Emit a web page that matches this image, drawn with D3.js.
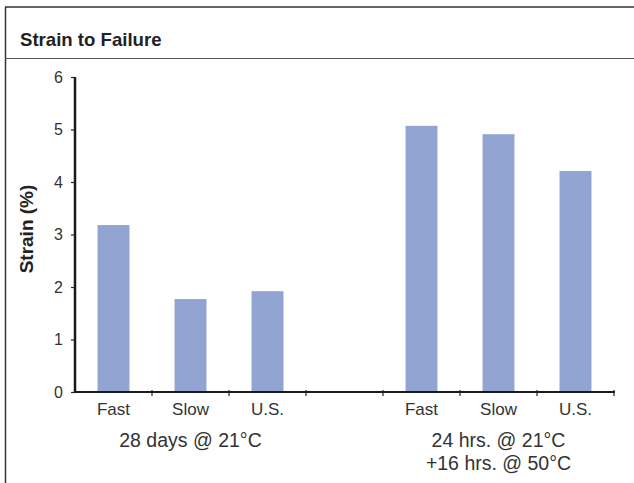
<!DOCTYPE html>
<html>
<head>
<meta charset="utf-8">
<script src="https://cdn.jsdelivr.net/npm/d3@7"></script>
<style>
  html, body { margin: 0; padding: 0; background: #fff; }
  svg { display: block; font-family: "Liberation Sans", Arial, Helvetica, sans-serif; }
</style>
</head>
<body>
<svg id="chart" width="634" height="483"></svg>
<script>
// ---- data ----
const title = "Strain to Failure";
const yLabel = "Strain (%)";
const categories = ["Fast", "Slow", "U.S.", "", "Fast ", "Slow ", "U.S. "];
const tickLabels = ["Fast", "Slow", "U.S.", "", "Fast", "Slow", "U.S."];
const values = [3.18, 1.77, 1.92, null, 5.07, 4.91, 4.21];
const yTicks = [0, 1, 2, 3, 4, 5, 6];
const groupLabels = [["28 days @ 21°C"], ["24 hrs. @ 21°C", "+16 hrs. @ 50°C"]];
const groupSpans = [[0, 2], [4, 6]];

(function () {
// ---- layout ----
const svg = d3.select("#chart");
const W = 634, H = 483;
const pl = 75, pr = 614, pt = 77, pb = 392;
const textColor = "#333";

// frame
svg.append("line").attr("x1", 5).attr("x2", W).attr("y1", 7).attr("y2", 7)
  .attr("stroke", "#333").attr("stroke-width", 1.6);
svg.append("line").attr("x1", 5.5).attr("x2", 5.5).attr("y1", 7).attr("y2", H)
  .attr("stroke", "#333").attr("stroke-width", 1.5);
svg.append("line").attr("x1", 5).attr("x2", W).attr("y1", 58.5).attr("y2", 58.5)
  .attr("stroke", "#555").attr("stroke-width", 1.2);

svg.append("text").attr("x", 20).attr("y", 45.5)
  .attr("font-size", 18.6).attr("font-weight", "bold").attr("fill", "#222")
  .text(title);

const x = d3.scaleBand().domain(categories).range([pl, pr]).paddingInner(0).paddingOuter(0);
const y = d3.scaleLinear().domain([0, 6]).range([pb, pt]);
const barW = x.bandwidth() * 0.415;

// bars
svg.append("g").selectAll("rect")
  .data(categories.map((c, i) => ({ c, v: values[i] })).filter(d => d.v !== null))
  .join("rect")
  .attr("x", d => x(d.c) + (x.bandwidth() - barW) / 2)
  .attr("width", barW)
  .attr("y", d => y(d.v))
  .attr("height", d => y(0) - y(d.v))
  .attr("fill", "#91a4d2");

// y axis
const yAxis = d3.axisLeft(y).tickValues(yTicks).tickSize(4).tickPadding(8).tickFormat(d3.format("d"));
const gy = svg.append("g").attr("transform", `translate(${pl},0)`).call(yAxis);
gy.select(".domain").attr("stroke", "#1a1a1a").attr("stroke-width", 2.5)
  .attr("d", `M0,${pt}V${pb}`);
gy.selectAll(".tick line").attr("stroke", "#222").attr("stroke-width", 1.2);
gy.selectAll(".tick text").attr("font-size", 16).attr("fill", textColor)
  .attr("font-family", "'Liberation Sans Narrow', 'Liberation Sans', Arial, sans-serif");

// x axis
const xAxis = d3.axisBottom(x).tickSize(0).tickPadding(11).tickFormat((d, i) => tickLabels[i]);
const gx = svg.append("g").attr("transform", `translate(0,${pb})`).call(xAxis);
gx.select(".domain").attr("stroke", "#1a1a1a").attr("stroke-width", 2)
  .attr("d", `M${pl},0H${pr + 1}`);
gx.selectAll(".tick text").attr("font-size", 17).attr("fill", textColor).attr("dy", "0.71em");
// boundary tick marks between categories
const bounds = categories.slice(1).map(c => x(c)).concat([pr]);
gx.append("g").selectAll("line").data(bounds).join("line")
  .attr("x1", d => d).attr("x2", d => d).attr("y1", -2).attr("y2", 4)
  .attr("stroke", "#222").attr("stroke-width", 1.2);

// group labels
groupLabels.forEach((lines, gi) => {
  const [a, b] = groupSpans[gi];
  const cx = (x(categories[a]) + x(categories[b]) + x.bandwidth()) / 2;
  lines.forEach((t, li) => {
    svg.append("text").attr("x", cx).attr("y", 447 + li * 22.5)
      .attr("text-anchor", "middle").attr("font-size", 19.5).attr("fill", textColor)
      .text(t);
  });
});

// y label
svg.append("text")
  .attr("transform", `translate(33,229) rotate(-90)`)
  .attr("text-anchor", "middle").attr("font-size", 19).attr("font-weight", "bold").attr("fill", "#222")
  .text(yLabel);
})();
</script>
</body>
</html>
